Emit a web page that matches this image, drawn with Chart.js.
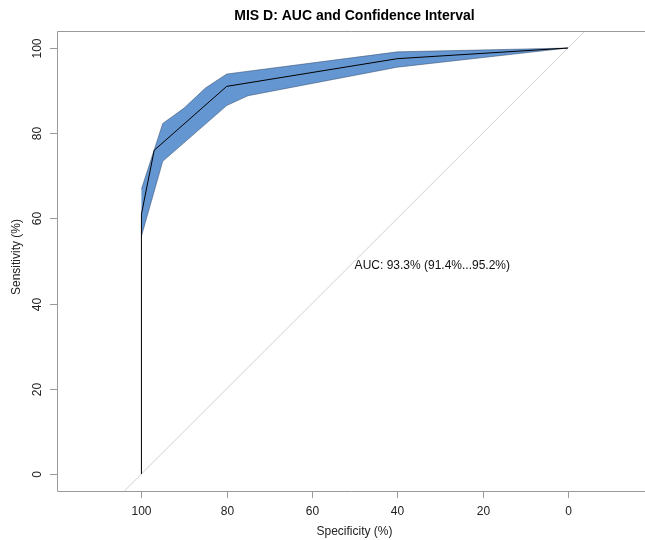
<!DOCTYPE html>
<html>
<head>
<meta charset="utf-8">
<title>MIS D ROC</title>
<script src="https://cdn.jsdelivr.net/npm/chart.js@4"></script>
<style>
  html, body { margin: 0; padding: 0; background: #fff; }
  canvas { display: block; }
</style>
</head>
<body>
<canvas id="roc" width="645" height="540"></canvas>
<script>
// ROC curve (specificity runs from 100 down to 0)
const rocSpecificity = [100, 100, 97, 80, 40, 0];
const rocSensitivity = [0, 61, 76, 91, 97.5, 100];

// confidence band, upper and lower edge
const upperSpecificity = [100, 95, 90, 85, 80, 40, 0];
const upperSensitivity = [66.9, 82.3, 85.9, 90.6, 93.9, 99.1, 100];
const lowerSpecificity = [100, 95, 80, 75, 40, 0];
const lowerSensitivity = [55.8, 73.4, 86.5, 88.8, 95.5, 100];

// chance line end points
const diagSpecificity = [104, -4];
const diagSensitivity = [-4, 104];

const xTicks = [100, 80, 60, 40, 20, 0];
const yTicks = [0, 20, 40, 60, 80, 100];

const TITLE = 'MIS D: AUC and Confidence Interval';
const X_TITLE = 'Specificity (%)';
const Y_TITLE = 'Sensitivity (%)';
const AUC_TEXT = 'AUC: 93.3% (91.4%...95.2%)';
const AUC_POS = [50, 50];

const FONT = '"Liberation Sans", Arial, Helvetica, sans-serif';
const BAND_FILL = '#6496d2';
const AXIS_GREY = '#9a9a9a';

function toPoints(xs, ys) {
    return xs.map((x, i) => ({x: x, y: ys[i]}));
}

// closed polygon: upper edge left to right, lower edge back again
const bandPoints = toPoints(upperSpecificity, upperSensitivity)
    .concat(toPoints(lowerSpecificity, lowerSensitivity).reverse());

/**
 * Draws the R style box, ticks, labels, titles and the AUC note
 */
const rStylePlugin = {
    id: 'rStyle',
    afterDraw(chart) {
        const ctx = chart.ctx;
        const area = chart.chartArea;
        const xs = chart.scales.x;
        const ys = chart.scales.y;

        ctx.save();
        ctx.strokeStyle = AXIS_GREY;
        ctx.lineWidth = 1;

        // box (right side falls outside the picture)
        ctx.beginPath();
        ctx.moveTo(area.right, Math.round(area.top) + 0.5);
        ctx.lineTo(Math.round(area.left) + 0.5, Math.round(area.top) + 0.5);
        ctx.lineTo(Math.round(area.left) + 0.5, Math.round(area.bottom) + 0.5);
        ctx.lineTo(area.right, Math.round(area.bottom) + 0.5);
        ctx.stroke();

        ctx.fillStyle = '#222';
        ctx.font = '12px ' + FONT;
        ctx.textAlign = 'center';
        ctx.textBaseline = 'middle';

        // bottom axis
        xTicks.forEach(v => {
            const px = Math.round(xs.getPixelForValue(v)) + 0.5;
            ctx.beginPath();
            ctx.moveTo(px, area.bottom);
            ctx.lineTo(px, area.bottom + 7);
            ctx.stroke();
            ctx.fillText(String(v), px, 512);
        });

        // left axis, labels turned like R does
        yTicks.forEach(v => {
            const py = Math.round(ys.getPixelForValue(v)) + 0.5;
            ctx.beginPath();
            ctx.moveTo(area.left, py);
            ctx.lineTo(area.left - 7, py);
            ctx.stroke();
            ctx.save();
            ctx.translate(38, py);
            ctx.rotate(-Math.PI / 2);
            ctx.fillText(String(v), 0, 0);
            ctx.restore();
        });

        // axis titles
        const midX = (area.left + 652) / 2;
        ctx.fillText(X_TITLE, midX, 532);
        ctx.save();
        ctx.translate(17, (area.top + area.bottom) / 2 - 4);
        ctx.rotate(-Math.PI / 2);
        ctx.fillText(Y_TITLE, 0, 0);
        ctx.restore();

        // main title
        ctx.font = 'bold 14px ' + FONT;
        ctx.fillStyle = '#000';
        ctx.fillText(TITLE, midX, 16);

        // AUC note, left aligned just below its data point
        ctx.font = '12px ' + FONT;
        ctx.fillStyle = '#111';
        ctx.textAlign = 'left';
        ctx.fillText(AUC_TEXT, xs.getPixelForValue(AUC_POS[0]), ys.getPixelForValue(AUC_POS[1]) + 5);

        ctx.restore();
    }
};

new Chart(document.getElementById('roc').getContext('2d'), {
    type: 'scatter',
    data: {
        datasets: [{
            label: 'ROC',
            data: toPoints(rocSpecificity, rocSensitivity),
            showLine: true,
            borderColor: '#000',
            borderWidth: 1,
            pointRadius: 0,
            fill: false,
            order: 0
        }, {
            label: 'CI',
            data: bandPoints,
            showLine: true,
            borderColor: 'rgba(45, 65, 95, 0.6)',
            borderWidth: 0.8,
            backgroundColor: BAND_FILL,
            pointRadius: 0,
            fill: 'shape',
            order: 1
        }, {
            label: 'chance',
            data: toPoints(diagSpecificity, diagSensitivity),
            showLine: true,
            borderColor: '#d0d0d0',
            borderWidth: 1,
            pointRadius: 0,
            fill: false,
            order: 2
        }]
    },
    options: {
        responsive: false,
        animation: false,
        layout: {padding: {left: 57, top: 31, right: 0, bottom: 49}},
        plugins: {
            legend: {display: false},
            tooltip: {enabled: false}
        },
        scales: {
            x: {type: 'linear', display: false, reverse: true, min: -18.1, max: 119.8},
            y: {type: 'linear', display: false, min: -4, max: 104}
        }
    },
    plugins: [rStylePlugin]
});
</script>
</body>
</html>
